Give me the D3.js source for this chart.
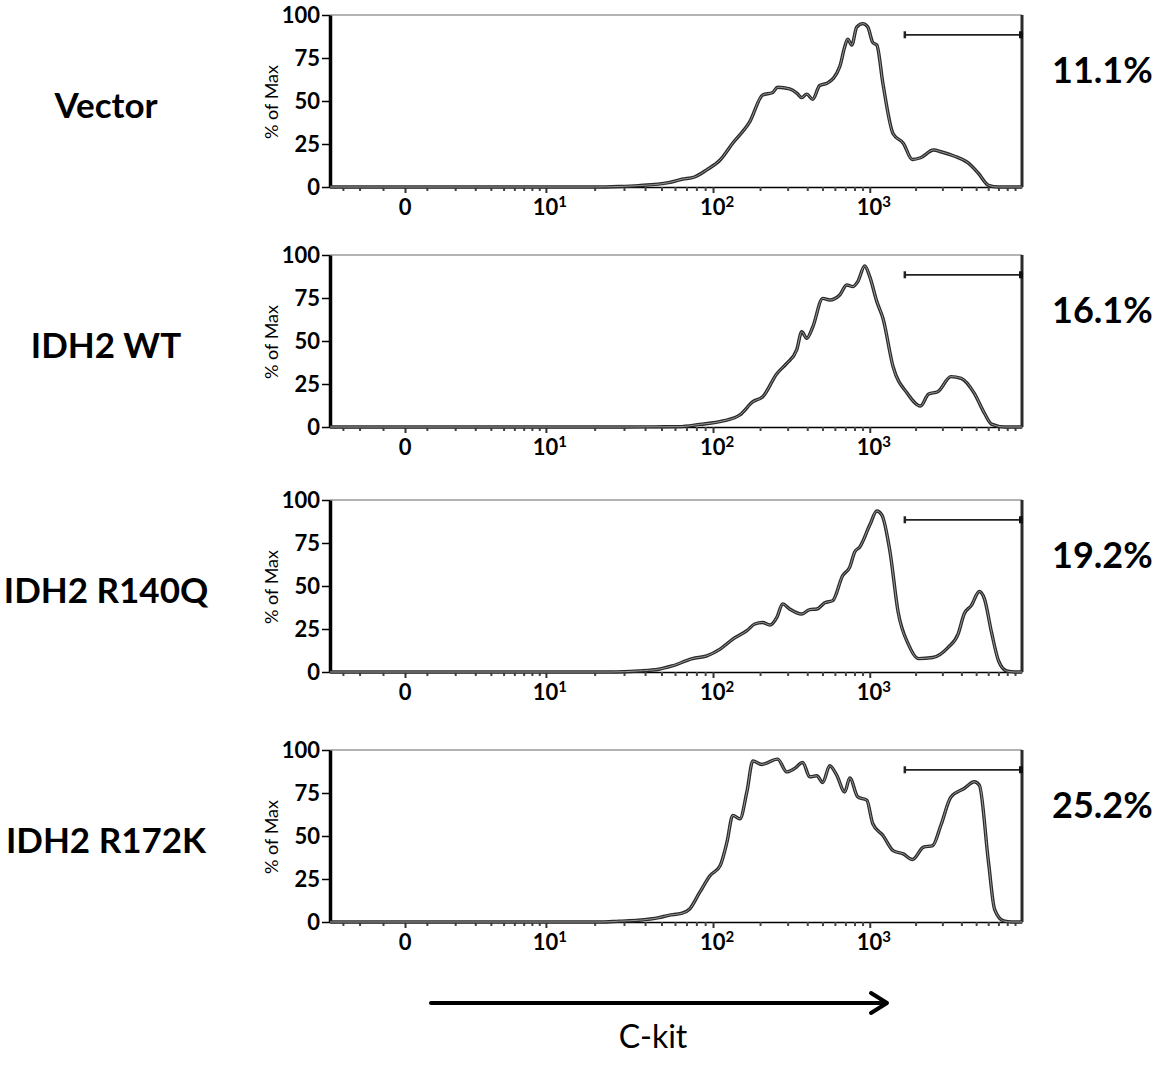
<!DOCTYPE html>
<html>
<head>
<meta charset="utf-8">
<script src="https://cdn.jsdelivr.net/npm/d3@7"></script>
<style>
  body { margin: 0; background: #fff; }
  svg { display: block; }
  text { font-family: Lato, "Open Sans", sans-serif; fill: #000; }
</style>
</head>
<body>
<div id="chart"></div>
<script>
// Sample names and % of cells inside the C-kit high gate
var samples = ["Vector", "IDH2 WT", "IDH2 R140Q", "IDH2 R172K"];
var gatePct = ["11.1%", "16.1%", "19.2%", "25.2%"];

// Histograms: [C-kit intensity, % of Max]
var vectorHist = [[-4,0],[20,0],[28,0.3],[36.5,0.8],[55,2.5],[66,4.5],[78,5.8],[92,10],[111,15.7],[134,25.6],
  [172,38],[208,53.5],[241,55],[259,58],[309,57],[343,54.6],[369,52],[397,54],[433,51],[480,59],[540,60.5],
  [644,70],[693,81.5],[724,86],[768,82.5],[826,93],[903,95],[971,93],[1047,84],[1113,82.5],[1221,60],
  [1424,31],[1660,25.5],[1905,16],[2154,17],[2630,21.5],[2929,20.5],[3577,18],[4431,14],[5168,8],
  [6026,1],[7022,0],[10000,0]];
var wtHist = [[-4,0],[30,0],[45,0.1],[63.4,0.2],[83.6,1.5],[115.8,3.5],[148.6,7],[180,14.7],[208,17.6],
  [256,31],[296,37],[343,45],[369,55.4],[397,51.6],[433,58],[502,74.8],[556,73.8],[644,76.7],[714,82.6],
  [779,81.6],[839,84.5],[929,93.6],[1000,87.4],[1113,72.9],[1221,63.2],[1424,35],[1765,19.6],[2154,12.2],
  [2436,19.2],[2797,20.5],[3415,29.3],[3981,28.3],[4862,19.6],[5666,8],[6310,1.7],[7705,0],[10000,0]];
var r140qHist = [[-4,0],[25,0],[36.5,0.6],[48.2,1.6],[57.6,3.5],[75.9,7.8],[92,9.4],[111,13.3],[134,19.1],
  [164.7,24],[185,27.9],[208,28.8],[231,27.3],[256,31.8],[279,39.6],[309,36.6],[369,33.7],[415,36.3],
  [460,36.6],[517,40.2],[581,41.5],[673,56.1],[746,61],[802,69.8],[864,72.7],[1000,85.4],[1113,93.6],
  [1202,91.2],[1359,69.8],[1537,34.7],[1792,16.2],[2089,7.8],[2590,8.4],[3263,14.2],[3802,22],[4169,33.7],
  [4642,38.6],[5248,46.8],[5666,42.5],[6310,23],[7022,6.4],[7943,0.6],[8983,0],[10000,0]];
var r172kHist = [[-4,0],[22,0],[28,0.5],[36.5,1],[48.2,2.5],[55,3.9],[66,5.1],[72.8,7.4],[83.6,17.2],[96,26.9],
  [111,32.7],[122.8,46.4],[134,62],[148.6,60],[164.7,75.6],[180,93.6],[205,91.6],[259,94.7],[296,87.3],
  [333,89.3],[374,92.8],[415,84.4],[460,85],[502,81.1],[556,90.8],[616,85.4],[693,75.6],[746,83.8],
  [839,72.7],[957,70.8],[1047,57.1],[1221,50.3],[1424,41.5],[1660,39.6],[1905,36.3],[2256,43.5],
  [2590,44.4],[2929,56.1],[3415,72.7],[4169,77.6],[4862,81.5],[5248,79.5],[6026,34.7],[6607,7.4],
  [7586,0.6],[8577,0],[10000,0]];
var histograms = [vectorHist, wtHist, r140qHist, r172kHist];

// Axis ticks and labels
var yTicks = [0, 25, 50, 75, 100];
var xMajor = [0, 10, 100, 1000];
var xMajorBase = ["0", "10", "10", "10"];
var xMajorExp = ["", "1", "2", "3"];
var xMinorNeg = [-3, -2, -1];
var xMinorDigits = [1, 2, 3, 4, 5, 6, 7, 8, 9];
var xDecades = [1, 10, 100, 1000];

// Gate (C-kit high)
var gateFrom = 1700, gateTo = 10000, gateLevel = 88.5;

// Display scale (biexponential-like): knots in intensity and fraction of plot width
var xKnots = [-4, -1, 0, 1, 10, 100, 1000, 10000];
var xKnotFrac = [0, 0.0766, 0.1084, 0.140, 0.312, 0.5535, 0.780, 1];

var WIDTH = 1153, HEIGHT = 1067;
var PLOT_LEFT = 330, PLOT_W = 692, PLOT_H = 172;
var panelTops = [15, 255, 500, 750];

var svg = d3.select("#chart").append("svg")
    .attr("width", WIDTH)
    .attr("height", HEIGHT);

svg.append("rect").attr("width", WIDTH).attr("height", HEIGHT).attr("fill", "#fff");

var x = d3.scaleSymlog()
    .constant(1)
    .domain(xKnots)
    .range(xKnotFrac.map(function(f) { return f * PLOT_W; }));

var y = d3.scaleLinear().domain([0, 100]).range([PLOT_H, 0]);

// minor ticks
var xMinor = xMinorNeg.slice();
xDecades.forEach(function(d) {
    xMinorDigits.forEach(function(k) {
        if (d === 1 || k > 1) xMinor.push(k * d);
    });
});
xMinor = xMinor.filter(function(v) { return xMajor.indexOf(v) === -1; });

var line = d3.line()
    .x(function(d) { return x(d[0]); })
    .y(function(d) { return y(d[1]); })
    .curve(d3.curveMonotoneX);

samples.forEach(function(name, i) {
    var top = panelTops[i];
    var g = svg.append("g").attr("transform", "translate(" + PLOT_LEFT + "," + top + ")");

    // top frame line
    g.append("line")
        .attr("x1", 0).attr("x2", PLOT_W).attr("y1", 0).attr("y2", 0)
        .attr("stroke", "#9a9a9a").attr("stroke-width", 1.5);

    // x axis: minor ticks, then major ticks
    var xMinorAxis = d3.axisBottom(x).tickValues(xMinor).tickSize(4).tickSizeOuter(0).tickFormat("");
    var gx = g.append("g").attr("transform", "translate(0," + PLOT_H + ")").call(xMinorAxis);
    gx.select(".domain").attr("stroke", "#000").attr("stroke-width", 1.5);
    gx.selectAll(".tick line").attr("stroke", "#444").attr("stroke-width", 2);

    var xMajorAxis = d3.axisBottom(x).tickValues(xMajor).tickSize(6).tickSizeOuter(0).tickFormat("");
    var gx2 = g.append("g").attr("transform", "translate(0," + PLOT_H + ")").call(xMajorAxis);
    gx2.select(".domain").remove();
    gx2.selectAll(".tick line").attr("stroke", "#333").attr("stroke-width", 2);

    var labels = g.selectAll("text.xlab")
        .data(xMajor)
        .enter()
        .append("text")
        .attr("class", "xlab")
        .attr("x", function(d, j) { return x(d) + (xMajorExp[j] ? 4 : 0); })
        .attr("y", PLOT_H + 28)
        .attr("text-anchor", "middle")
        .style("font-size", "22px")
        .style("font-weight", "bold");
    labels.append("tspan").text(function(d, j) { return xMajorBase[j]; });
    labels.append("tspan")
        .attr("dy", -8)
        .style("font-size", "15px")
        .text(function(d, j) { return xMajorExp[j]; });

    // y axis
    var gy = g.append("g").call(d3.axisLeft(y).tickValues(yTicks).tickSize(8).tickPadding(2).tickSizeOuter(0));
    gy.select(".domain").attr("stroke", "#000").attr("stroke-width", 3.5);
    gy.selectAll(".tick line").attr("stroke", "#000").attr("stroke-width", 1.5);
    gy.selectAll(".tick text")
        .style("font-family", "Lato, 'Open Sans', sans-serif")
        .style("font-size", "22px")
        .style("font-weight", "bold")
        .attr("fill", "#000");

    // y axis title
    g.append("text")
        .attr("transform", "translate(" + (-52) + "," + 87 + ") rotate(-90)")
        .attr("text-anchor", "middle")
        .style("font-size", "18px")
        .text("% of Max");

    // right frame line
    g.append("line")
        .attr("x1", PLOT_W).attr("x2", PLOT_W).attr("y1", 0).attr("y2", PLOT_H)
        .attr("stroke", "#2b2b2b").attr("stroke-width", 3);

    // histogram
    g.append("path")
        .datum(histograms[i])
        .attr("fill", "none")
        .attr("stroke", "#2a2a2a")
        .attr("stroke-width", 3.4)
        .attr("stroke-linejoin", "round")
        .attr("d", line);
    g.append("path")
        .datum(histograms[i])
        .attr("fill", "none")
        .attr("stroke", "#9a9a9a")
        .attr("stroke-width", 1)
        .attr("d", line);

    // gate marker
    var gy0 = y(gateLevel);
    g.append("line")
        .attr("x1", x(gateFrom)).attr("x2", x(gateTo)).attr("y1", gy0).attr("y2", gy0)
        .attr("stroke", "#222").attr("stroke-width", 1.8);
    g.append("line")
        .attr("x1", x(gateFrom)).attr("x2", x(gateFrom)).attr("y1", gy0 - 3.5).attr("y2", gy0 + 3.5)
        .attr("stroke", "#222").attr("stroke-width", 2.5);
    g.append("rect")
        .attr("x", x(gateTo) - 3).attr("y", gy0 - 3.5).attr("width", 4).attr("height", 7)
        .attr("fill", "#111");

    // sample label on the left
    svg.append("text")
        .attr("x", 106)
        .attr("y", top + 103)
        .attr("text-anchor", "middle")
        .style("font-size", "35px")
        .style("font-weight", "bold")
        .text(name);

    // gated percentage on the right
    svg.append("text")
        .attr("x", 1052)
        .attr("y", top + 68)
        .style("font-size", "36px")
        .style("font-weight", "bold")
        .text(gatePct[i]);
});

// C-kit arrow
var arrow = svg.append("g").attr("stroke", "#000").attr("stroke-width", 4).attr("fill", "none")
    .attr("stroke-linecap", "round").attr("stroke-linejoin", "round");
arrow.append("line").attr("x1", 431).attr("x2", 885).attr("y1", 1003).attr("y2", 1003);
arrow.append("polyline").attr("points", "871,993 887,1003 871,1013");

svg.append("text")
    .attr("x", 653)
    .attr("y", 1048)
    .attr("text-anchor", "middle")
    .style("font-size", "32px")
    .text("C-kit");
</script>
</body>
</html>
